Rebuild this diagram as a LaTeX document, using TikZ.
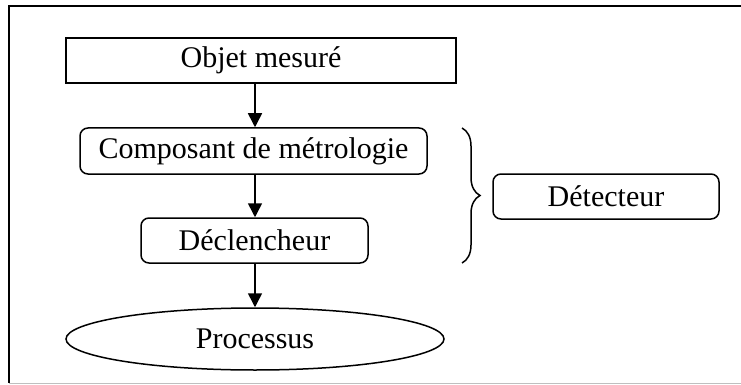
\documentclass[tikz,border=0pt]{standalone}
\usepackage{fontspec}
\setmainfont{Liberation Serif}
\usetikzlibrary{arrows.meta,shapes.geometric,decorations.pathreplacing}
\begin{document}
\begin{tikzpicture}[x=1pt,y=-1pt,
  every node/.style={font=\fontsize{30}{33}\selectfont, line width=1.5pt, inner sep=0pt},
  sqbox/.style={draw, rectangle},
  rbox/.style={draw, rectangle, rounded corners=8pt},
  ell/.style={draw, ellipse},
  arr/.style={line width=1.5pt, -{Triangle[length=14pt,width=14pt]}}]
\useasboundingbox (0,0) rectangle (741,385);
\draw[line width=1.5pt] (741,6) -- (9,6) -- (9,383);
\draw[line width=1.2pt, black!25] (9,383.5) -- (741,383.5);
\node[sqbox, minimum width=390pt, minimum height=45pt] (obj) at (261,60.5) {Objet mesuré};
\node[rbox, minimum width=347pt, minimum height=46pt] (comp) at (253.5,151) {Composant de métrologie};
\node[rbox, minimum width=227pt, minimum height=45pt] (decl) at (254.5,240.5) {Déclencheur};
\node[ell, minimum width=378pt, minimum height=62pt] (proc) at (255,339) {Processus};
\node[rbox, minimum width=226pt, minimum height=45pt] (det) at (606,196.5) {Détecteur};
\coordinate (bt) at (462,128);
\coordinate (bb) at (462,263);
\draw[arr] (obj.south -| proc.north) -- (comp.north -| proc.north);
\draw[arr] (comp.south -| proc.north) -- (decl.north -| proc.north);
\draw[arr] (decl.south -| proc.north) -- (proc.north);
\draw[line width=1.5pt, decorate, decoration={brace, amplitude=18pt}] (bt) -- (bb);
\end{tikzpicture}
\end{document}
